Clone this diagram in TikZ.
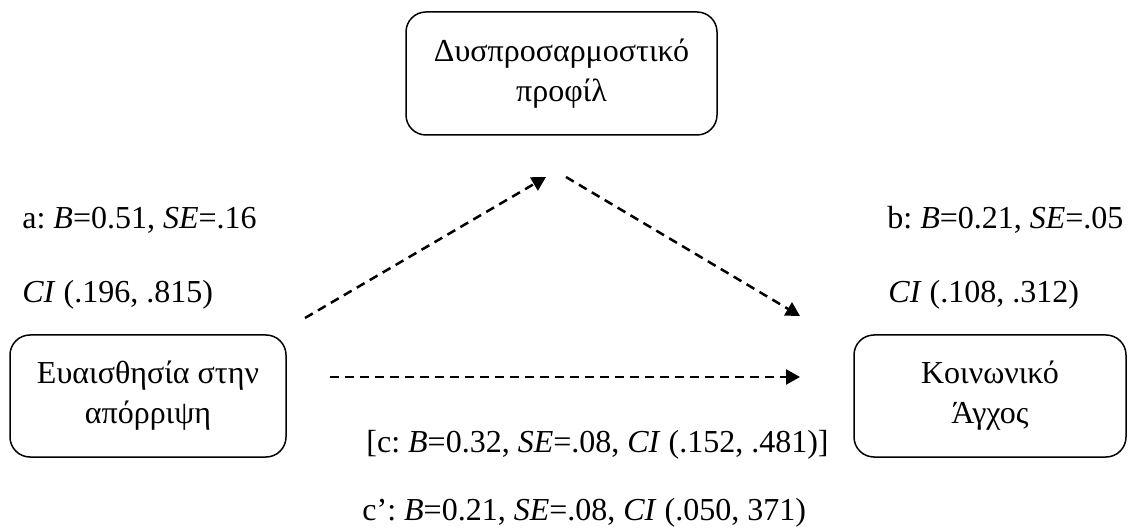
\documentclass[tikz,border=0pt]{standalone}
\usepackage{fontspec}
\setmainfont{Liberation Serif}
\usetikzlibrary{arrows.meta}
\frenchspacing
\begin{document}
\begin{tikzpicture}[x=0.5pt,y=-0.5pt,
  every node/.style={font=\fontsize{16}{20}\selectfont, inner sep=0pt},
  varbox/.style={draw, line width=0.75pt, rounded corners=10pt, align=center},
  lbl/.style={anchor=base west},
  path/.style={line width=1.25pt, dash pattern=on 4.5pt off 3pt,
    -{Triangle[length=7pt,width=7.5pt]}}]
\useasboundingbox (0,0) rectangle (1128,528);

% variables
\node[varbox, minimum width=155.5pt, minimum height=61.5pt] (med) at (561.5,73.5)
  {Δυσπροσαρμοστικό\\προφίλ};
\node[varbox, minimum width=138pt, minimum height=61pt] (iv) at (148,396)
  {Ευαισθησία στην\\απόρριψη};
\node[varbox, minimum width=136pt, minimum height=61pt] (dv) at (990,396)
  {Κοινωνικό\\Άγχος};

% path end points
\coordinate (a1) at (305,318); \coordinate (a2) at (546,177);
\coordinate (b1) at (566,177); \coordinate (b2) at (800,316);
\coordinate (c1) at (330,377); \coordinate (c2) at (800,377);

\draw[path] (a1) -- (a2);
\draw[path] (b1) -- (b2);
\draw[path] (c1) -- (c2);

% coefficients
\node[lbl] (la) at (22,229) {a: \textit{B}=0.51, \textit{SE}=.16};
\node[lbl] (lacI) at (22,303) {\textit{CI} (.196, .815)};
\node[lbl] (lb) at (887,229) {b: \textit{B}=0.21, \textit{SE}=.05};
\node[lbl] (lbcI) at (888,303) {\textit{CI} (.108, .312)};
\node[lbl] (lc) at (366,452) {[c: \textit{B}=0.32, \textit{SE}=.08, \textit{CI} (.152, .481)]};
\node[lbl] (lcp) at (362,520) {c’: \textit{B}=0.21, \textit{SE}=.08, \textit{CI} (.050, 371)};
\end{tikzpicture}
\end{document}
